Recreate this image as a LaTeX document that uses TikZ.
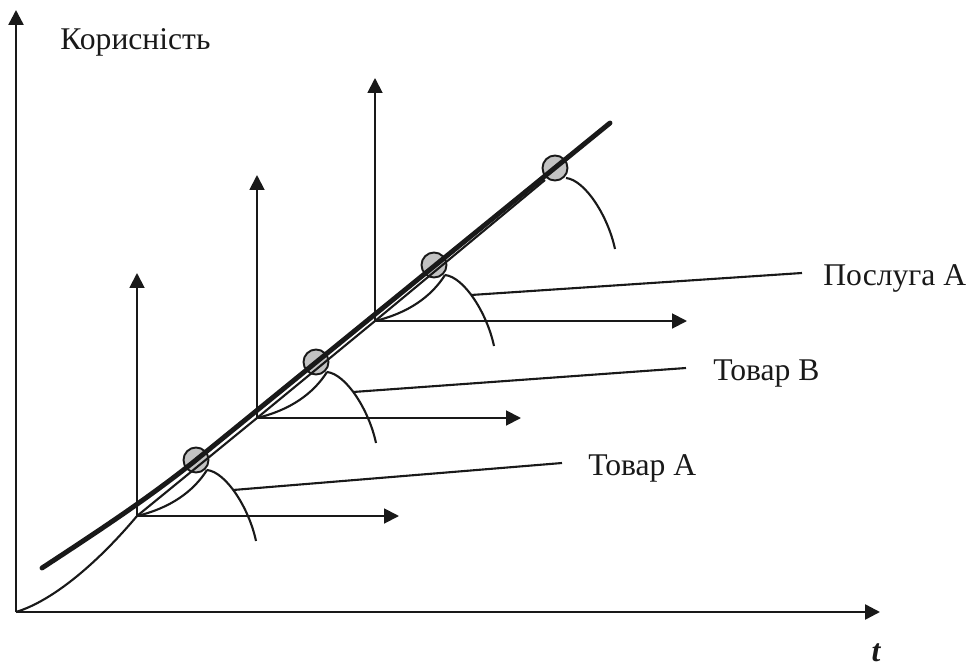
\documentclass[tikz,border=0pt]{standalone}
\usepackage{fontspec}
\setmainfont{Liberation Serif}
\definecolor{tinta}{RGB}{25,25,25}
\definecolor{bolagray}{RGB}{195,195,195}
\usetikzlibrary{arrows.meta,calc}

\begin{document}
\begin{tikzpicture}[x=0.02cm,y=-0.02cm,
    eixo/.style={tinta,line width=1.4pt,-{Triangle[length=8.5pt,width=8.5pt]}},
    eixoloc/.style={tinta,line width=1.1pt,-{Triangle[length=8.5pt,width=8.5pt]}},
    curva/.style={tinta,line width=1.2pt},
    reta/.style={tinta,line width=2.8pt,line cap=round},
    bola/.style={circle,draw=tinta,line width=1.1pt,fill=bolagray,
        minimum size=0.5cm,inner sep=0pt},
    rotulo/.style={font=\fontsize{18}{21}\selectfont,text=tinta,
        inner sep=0pt,anchor=base west}]

    \useasboundingbox (0,0) rectangle (970,666);

    % Eixos principais
    \coordinate (O) at (16,612);
    \coordinate (ytopo) at (16,10);
    \coordinate (xfim) at (880,612);
    \draw[eixo] (O) -- (ytopo);
    \draw[eixo] (O) -- (xfim);
    \node[rotulo] (util) at (60,50) {Корисність};
    \node[rotulo,anchor=base,font=\fontsize{18}{21}\selectfont\bfseries\itshape]
        (tempo) at (876,661) {t};

    % Eixos locais de cada bem
    \foreach \i/\ox/\oy/\len in {1/137/516/262, 2/257/418/264, 3/375/321/312}{
        \coordinate (o\i) at (\ox,\oy);
        \coordinate (v\i) at (\ox,\oy-243);
        \coordinate (h\i) at (\ox+\len,\oy);
        \draw[eixoloc] (o\i) -- (v\i);
        \draw[eixoloc] (o\i) -- (h\i);
    }

    % Bolas de saturacao e ramos descendentes
    \foreach \i/\ox/\oy in {1/137/516, 2/257/418, 3/375/321, 4/496/224}{
        \coordinate (c\i) at (\ox+59,\oy-56);
        \coordinate (p\i) at (\ox+70,\oy-46);
        \coordinate (f\i) at (\ox+119,\oy+25);
        \node[bola] (b\i) at (c\i) {};
        \draw[curva] (p\i) .. controls +(19,2) and +(-7,-33)
            .. coordinate[pos=0.45] (s\i) (f\i);
    }

    % Ramos ascendentes
    \foreach \i in {1,2,3}{
        \draw[curva] (o\i) .. controls +(33,-8) and +(-14,22) .. (p\i);
    }

    % Curva fina que liga as origens
    \coordinate (t4) at (545,180);
    \draw[curva] (O) .. controls (55,600) and (100,560) .. (o1)
        -- (o2) -- (o3) -- (t4);

    % Tangente comum (linha grossa)
    \coordinate (r0) at (42,568);
    \coordinate (r1) at (610,123);
    \draw[reta] (r0) .. controls (100,530) and (150,497) .. (c1) -- (r1);

    % Rotulos com linhas de chamada
    \coordinate (e1) at (562,463);
    \coordinate (e2) at (686,368);
    \coordinate (e3) at (802,273);
    \node[rotulo] (bemA) at (588,475) {Товар А};
    \node[rotulo] (bemB) at (713,380) {Товар В};
    \node[rotulo] (servA) at (823,285) {Послуга А};
    \foreach \i in {1,2,3}{
        \draw[curva] (s\i) -- (e\i);
    }

\end{tikzpicture}
\end{document}
